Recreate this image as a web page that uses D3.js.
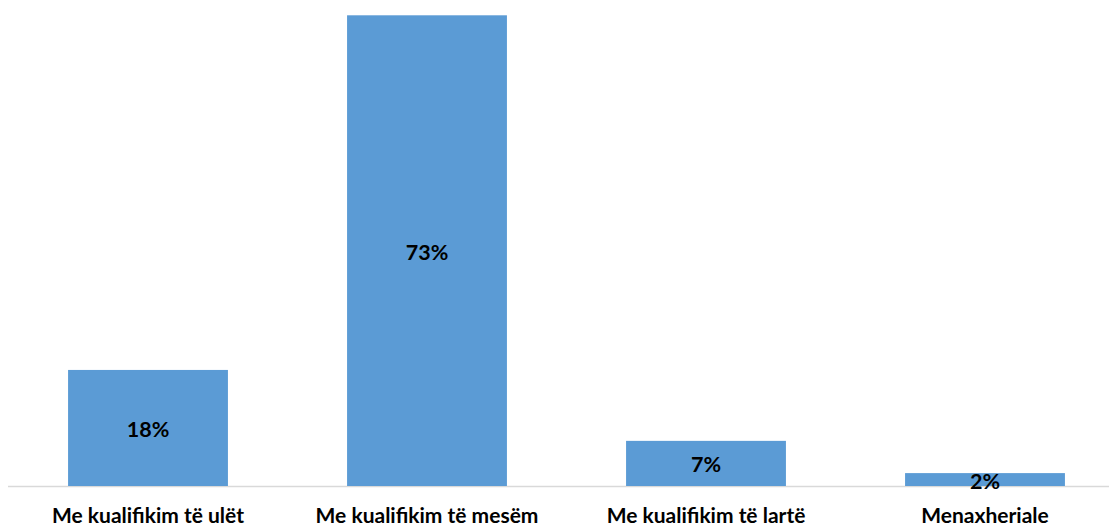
<!DOCTYPE html>
<html><head><meta charset="utf-8">
<script src="https://cdn.jsdelivr.net/npm/d3@7"></script>
<style>html,body{margin:0;padding:0;background:#fff;}svg{display:block;}</style>
</head><body>
<div id="chart"></div>
<script>
const categories = ["Me kualifikim të ulët", "Me kualifikim të mesëm", "Me kualifikim të lartë", "Menaxheriale"];
const values = [18, 73, 7, 2];
const valueLabels = ["18%", "73%", "7%", "2%"];

const W = 1109, H = 527;
const svg = d3.select("#chart").append("svg").attr("width", W).attr("height", H);
const font = "Lato, 'Open Sans', sans-serif";

const x = d3.scaleBand().domain(categories).range([8.5, 1124.5]).paddingInner(0.427).paddingOuter(0.2135);
const y = d3.scaleLinear().domain([0, 73]).range([486, 15.3]);

svg.append("line").attr("x1", 8).attr("x2", W).attr("y1", 486.5).attr("y2", 486.5)
  .attr("stroke", "#D9D9D9").attr("stroke-width", 1.5);

svg.selectAll("rect.bar").data(values).enter().append("rect")
  .attr("class", "bar")
  .attr("x", (d, i) => x(categories[i]))
  .attr("width", x.bandwidth())
  .attr("y", d => y(d))
  .attr("height", d => y(0) - y(d))
  .attr("fill", "#5B9BD5");

svg.selectAll("text.val").data(values).enter().append("text")
  .attr("class", "val")
  .attr("x", (d, i) => x(categories[i]) + x.bandwidth() / 2)
  .attr("y", d => (y(d) + y(0)) / 2 + 1.5)
  .attr("dy", "0.35em")
  .attr("text-anchor", "middle")
  .attr("font-family", font).attr("font-weight", "bold").attr("font-size", 21.5)
  .attr("fill", "#000")
  .text((d, i) => valueLabels[i]);

const axis = d3.axisBottom(x).tickSize(0).tickPadding(0);
const g = svg.append("g").attr("transform", "translate(0,486)").call(axis);
g.select(".domain").remove();
g.selectAll("text").attr("font-family", font).attr("font-weight", "bold").attr("font-size", 21)
  .attr("fill", "#000").attr("dy", null).attr("y", 36.5);
</script>
</body></html>
